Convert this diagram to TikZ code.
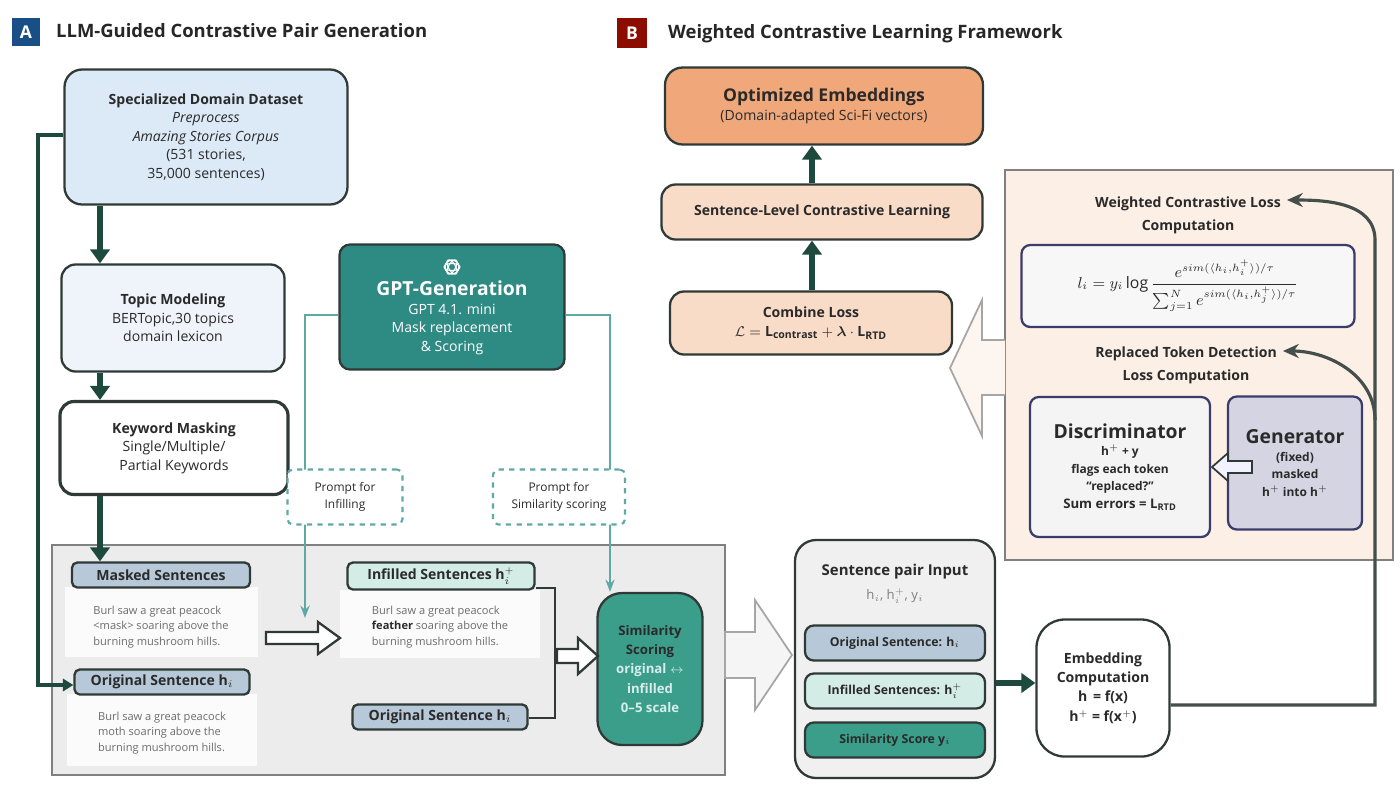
\documentclass[tikz,border=0pt]{standalone}
\usepackage{amsmath}
\usepackage{fontspec}
\setmainfont{Open Sans}
\usetikzlibrary{arrows.meta,calc}
\definecolor{dkg}{HTML}{1D4A3C}
\definecolor{teal1}{HTML}{2E8B84}
\definecolor{teal2}{HTML}{3A9E8A}
\definecolor{tealL}{HTML}{5FA9A5}
\definecolor{blueH}{HTML}{B7C9D8}
\definecolor{infH}{HTML}{D4ECE6}
\definecolor{spec}{HTML}{DCE9F6}
\definecolor{topic}{HTML}{EEF4FA}
\definecolor{peach}{HTML}{FBEFE6}
\definecolor{peach2}{HTML}{F9DCC8}
\definecolor{orange1}{HTML}{F0A77A}
\definecolor{navy}{HTML}{3C3C6A}
\definecolor{edge}{HTML}{2F3A36}
\definecolor{txt}{HTML}{2A2A2A}
\newcommand{\psup}{^{\scriptscriptstyle +}}
\tikzset{
  bx/.style args={#1/#2}{draw=edge,line width=1.3pt,rounded corners=5pt,minimum width=#1*0.02cm,minimum height=#2*0.02cm,align=center,inner sep=2pt,text=txt,font=\fontsize{8}{10.5}\selectfont},
  hd/.style={font=\bfseries\fontsize{8}{10}\selectfont},
  sent/.style={align=left,text=gray!85!black,font=\fontsize{6.3}{9}\selectfont,inner sep=3pt},
  thk/.style={line width=3pt,draw=dkg,-{Triangle[length=8pt,width=11pt]}},
  tln/.style={draw=tealL,line width=1.2pt,-{Stealth[length=7pt]}},
  hol/.style={draw=edge,line width=1.3pt,fill=white,line join=miter},
  dkarr/.style={draw=edge!90,line width=1.8pt,-{Stealth[length=9pt,width=8pt]}},
  prm/.style={draw=tealL,dashed,line width=1.2pt,fill=white,rounded corners=3pt,align=center,font=\fontsize{6.8}{10}\selectfont,text=txt},
}
\begin{document}
\begin{tikzpicture}[x=0.02cm,y=-0.02cm]
\useasboundingbox (0,0) rectangle (1400,789);
\fill[white] (0,0) rectangle (1400,789);
% titles
\node[fill=teal1!70!blue!80!black,text=white,font=\bfseries\fontsize{10}{12}\selectfont,minimum size=0.56cm,inner sep=0] (ba) at (26,32) {A};
\node[anchor=west,font=\bfseries\fontsize{10.5}{12}\selectfont,text=gray!30!black] (ta) at (50,31) {LLM-Guided Contrastive Pair Generation};
\node[fill=red!50!black!90!orange,text=white,font=\bfseries\fontsize{10}{12}\selectfont,minimum size=0.6cm,inner sep=0] (bb) at (632,33) {B};
\node[anchor=west,font=\bfseries\fontsize{10.5}{12}\selectfont,text=gray!30!black] (tb) at (662,34) {Weighted Contrastive Learning Framework};
% gray region
\node[draw=gray,fill=gray!15,line width=1pt,minimum width=673*0.02cm,minimum height=230*0.02cm] (gray) at (388.5,660) {};
% left column
\node[bx=283/135,fill=spec,rounded corners=10pt] (spec) at (206,137) {{\bfseries Specialized Domain Dataset}\\\itshape Preprocess\\\itshape Amazing Stories Corpus\\(531 stories,\\35,000 sentences)};
\node[bx=223/107,fill=topic,rounded corners=8pt] (topic) at (173,318) {{\bfseries Topic Modeling}\\BERTopic,30 topics\\domain lexicon};
\node[bx=228/93,fill=white,line width=1.8pt,rounded corners=8pt] (kw) at (174,448) {{\bfseries Keyword Masking}\\Single/Multiple/\\Partial Keywords};
\coordinate (ax) at (100,0);
\draw[thk] (spec.south -| ax) -- (topic.north -| ax);
\draw[thk] (topic.south -| ax) -- (kw.north -| ax);
% masked
\node[fill=white,fill opacity=.8,minimum width=193*0.02cm,minimum height=70*0.02cm] (mb) at (161,622) {};
\node[sent] (mbt) at (161,627) {Burl saw a great peacock\\<mask> soaring above the\\burning mushroom hills.};
\node[bx=178/25,fill=blueH,hd,rounded corners=3pt] (mh) at (161,575) {Masked Sentences};
\draw[thk] (kw.south -| ax) -- (mh.north -| ax);
\node[fill=white,fill opacity=.8,minimum width=190*0.02cm,minimum height=72*0.02cm] (ob) at (162,730) {};
\node[sent] (obt) at (162,733) {Burl saw a great peacock\\moth soaring above the\\burning mushroom hills.};
\node[bx=175/25,fill=blueH,hd,rounded corners=3pt] (oh) at (162,682) {Original Sentence h$_i$};
\draw[line width=2pt,draw=dkg,-{Triangle[length=6pt,width=7pt]}] (spec.west |- 0,135) -- (38,135) -- (38,685) -- (oh.west |- 0,685);
% GPT
\node[bx=225/125,fill=teal1,rounded corners=6pt] (gpt) at (452,307) {};
\node[text=white,align=center,font=\fontsize{8}{10.5}\selectfont] (gptt) at (452,318) {{\bfseries\fontsize{11}{13}\selectfont GPT-Generation}\\GPT 4.1. mini\\Mask replacement\\\& Scoring};
\draw[white,line width=0.8pt] (452,267) circle (7);
\foreach \a in {0,60,120} \draw[white,line width=0.6pt,rotate around={\a:(452,267)}] (452,267) ellipse (8 and 3.5);
% infilled
\node[fill=white,fill opacity=.8,minimum width=200*0.02cm,minimum height=68*0.02cm] (ib) at (440,624) {};
\node[sent] (ibt) at (440,627) {Burl saw a great peacock\\\textbf{\color{txt}feather} soaring above the\\burning mushroom hills.};
\node[bx=187/27,fill=infH,hd,rounded corners=3pt] (ih) at (441,576) {Infilled Sentences h$_i\psup$};
\node[bx=175/25,fill=blueH,hd,rounded corners=3pt] (o2) at (440,717) {Original Sentence h$_i$};
\node[bx=105/152,fill=teal2,rounded corners=14pt,font=\bfseries\fontsize{7.5}{11}\selectfont] (sim) at (650,669) {Similarity\\Scoring\\\color{white!85!teal}original $\leftrightarrow$\\\color{white!85!teal}infilled\\\color{white!85!teal}0--5 scale};
\draw[tln] (gpt.west |- 0,315) -- (305,315) -- (305,618);
\draw[tln] (gpt.east |- 0,315) -- (610,315) -- (sim.north -| 610,0);
\node[prm,minimum width=115*0.02cm,minimum height=55*0.02cm] (pinf) at (345,497) {Prompt for\\Infilling};
\node[prm,minimum width=132*0.02cm,minimum height=55*0.02cm] (psim) at (559,497) {Prompt for\\Similarity scoring};
\draw[edge,line width=1.5pt] (ih.east |- 0,588) -- (555,588) -- (555,718) -- (o2.east |- 0,718);
% hollow arrows
\draw[hol] (266,632) -- (318,632) -- (318,622) -- (340,638) -- (318,654) -- (318,644) -- (266,644) -- cycle;
\draw[hol] (557,649) -- (578,649) -- (578,638) -- (598,656) -- (578,674) -- (578,663) -- (557,663) -- cycle;
\draw[draw=gray!70,line width=1pt,fill=gray!8] (725,632) -- (755,632) -- (755,600) -- (792,655) -- (755,710) -- (755,678) -- (725,678) -- cycle;
% pair
\node[bx=200/238,fill=gray!12,rounded corners=12pt] (pair) at (895,659) {};
\node[text=txt,font=\bfseries\fontsize{8.5}{10}\selectfont] (pt) at (895,572) {Sentence pair Input};
\node[text=gray,font=\fontsize{7.5}{9}\selectfont] (ps) at (895,596) {h$_i$, h$_i\psup$, y$_i$};
\node[bx=180/35,fill=blueH,rounded corners=5pt,font=\bfseries\fontsize{7}{9}\selectfont] (p1) at (895,643) {Original Sentence: h$_i$};
\node[bx=180/35,fill=infH,rounded corners=5pt,font=\bfseries\fontsize{7}{9}\selectfont] (p2) at (895,691) {Infilled Sentences: h$_i\psup$};
\node[bx=180/35,fill=teal2,rounded corners=5pt,font=\bfseries\fontsize{7}{9}\selectfont] (p3) at (895,740) {Similarity Score y$_i$};
\node[bx=133/137,fill=white,rounded corners=16pt,font=\bfseries\fontsize{8}{11}\selectfont] (emb) at (1103,688) {Embedding\\Computation\\h\ \,= f(x)\\h$\psup$ = f(x$\psup$)};
\draw[thk] (pair.east |- 0,683) -- (emb.west |- 0,683);
% right panel
\node[draw=gray,fill=peach,line width=1pt,minimum width=388*0.02cm,minimum height=390*0.02cm] (panel) at (1199,365) {};
\node[align=center,text=txt,font=\bfseries\fontsize{8}{13}\selectfont] (wcl) at (1188,215) {Weighted Contrastive Loss\\Computation};
\node[bx=333/82,fill=gray!6,draw=navy,font=\fontsize{9}{11}\selectfont] (form) at (1188,286) {$\displaystyle l_i = y_i\log\frac{e^{sim(\langle h_i,h_i^{+}\rangle)/\tau}}{\sum_{j=1}^{N} e^{sim(\langle h_i,h_j^{+}\rangle)/\tau}}$};
\node[align=center,text=txt,font=\bfseries\fontsize{8}{13}\selectfont] (rtd) at (1186,365) {Replaced Token Detection\\Loss Computation};
\node[bx=180/140,fill=blue!4!gray!8,draw=navy,font=\bfseries\fontsize{6.8}{10}\selectfont] (disc) at (1120,467) {{\fontsize{11}{13}\selectfont Discriminator}\\h$\psup$ + y\\flags each token\\``replaced?''\\{\fontsize{7.5}{10}\selectfont Sum errors = L$_{\mathbf{RTD}}$}};
\node[bx=134/133,fill=gray!30!blue!10!white!80!gray,draw=navy,font=\bfseries\fontsize{6.8}{10}\selectfont] (gen) at (1295,463) {{\fontsize{11}{13}\selectfont Generator}\\(fixed)\\masked\\h$\psup$ into h$\psup$};
\draw[hol,fill=blue!5,line width=1pt] (1252,461) -- (1228,461) -- (1228,453) -- (1212,467) -- (1228,481) -- (1228,473) -- (1252,473) -- cycle;
\draw[draw=gray!70,line width=1pt,fill=peach!60] (1005,340) -- (982,340) -- (982,300) -- (950,368) -- (982,436) -- (982,395) -- (1005,395);
\draw[dkarr] (emb.east |- 0,705) -- (1375,705) -- (1375,240) to[out=90,in=0] (wcl.north east |- 0,200);
\draw[dkarr] (1375,420) to[out=90,in=0] (rtd.north east |- 0,351);
% top B
\node[bx=318/77,fill=orange1,rounded corners=10pt,font=\fontsize{8}{11}\selectfont] (opt) at (824,106) {{\bfseries\fontsize{10}{12}\selectfont Optimized Embeddings}\\(Domain-adapted Sci-Fi vectors)};
\node[bx=321/55,fill=peach2,rounded corners=8pt,font=\bfseries\fontsize{8}{10}\selectfont] (slc) at (822,212) {Sentence-Level Contrastive Learning};
\node[bx=282/63,fill=peach2,rounded corners=8pt,font=\bfseries\fontsize{8}{11}\selectfont] (cl) at (811,323) {Combine Loss\\$\mathcal{L} = \mathbf{L}_{\mathbf{contrast}} + \boldsymbol{\lambda}\cdot \mathbf{L}_{\mathbf{RTD}}$};
\coordinate (bx) at (812,0);
\draw[thk] (cl.north -| bx) -- (slc.south -| bx);
\draw[thk] (slc.north -| bx) -- (opt.south -| bx);
\end{tikzpicture}
\end{document}
